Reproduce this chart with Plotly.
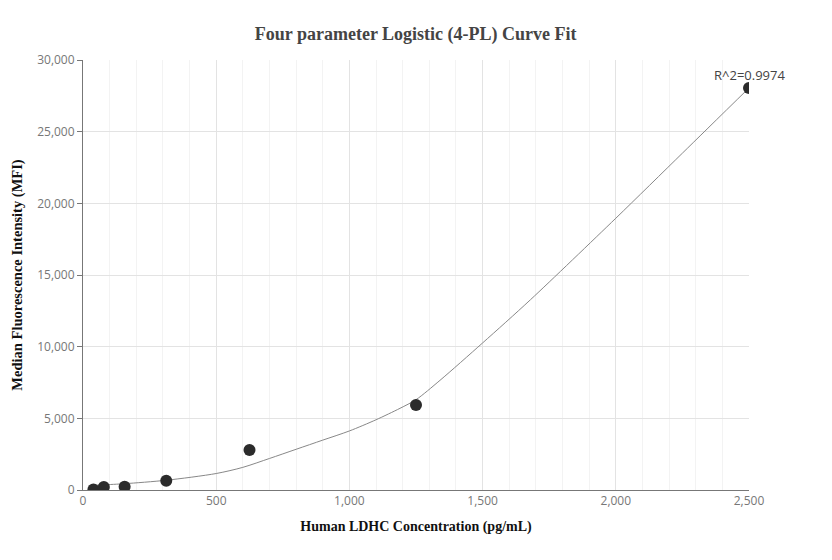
import plotly.graph_objects as go

# measured standards
conc = [39.06, 78.125, 156.25, 312.5, 625, 1250, 2500]
mfi = [40, 210, 230, 650, 2790, 5930, 28050]

# fitted 4-PL curve
fit_x = [39.06, 78.125, 156.25, 312.5, 500, 600, 700, 800, 900, 1000, 1100, 1190, 1250, 1340, 1500, 1680, 2000, 2250, 2500]
fit_y = [330, 360, 440, 680, 1150, 1580, 2200, 2840, 3480, 4120, 4900, 5700, 6300, 7650, 10260, 13280, 18960, 23500, 28050]

r2_text = "R^2=0.9974"

fig = go.Figure()

fig.add_trace(go.Scatter(
    x=fit_x, y=fit_y, mode="lines",
    line=dict(color="#888888", width=1, shape="spline", smoothing=0.8),
    hoverinfo="skip", showlegend=False,
))

fig.add_trace(go.Scatter(
    x=conc, y=mfi, mode="markers",
    marker=dict(color="#2b2b2b", size=12),
    showlegend=False,
))

fig.add_annotation(
    x=conc[-1], y=mfi[-1], text=r2_text, showarrow=False,
    yshift=13, font=dict(family="Open Sans", size=13, color="#444444"),
)

tick_font = dict(family="Open Sans", size=12, color="#777777")

fig.update_layout(
    width=832, height=560,
    margin=dict(l=75, r=91, t=52, b=78),
    paper_bgcolor="white", plot_bgcolor="white",
    title=dict(
        text="<b>Four parameter Logistic (4-PL) Curve Fit</b>",
        x=0.49, xref="container", xanchor="center",
        y=0.955, yanchor="middle",
        font=dict(family="Liberation Serif", size=18, color="#444444"),
    ),
    xaxis=dict(
        range=[0, 2500], dtick=500, tickformat=",",
        title=dict(text="<b>Human LDHC Concentration (pg/mL)</b>",
                   font=dict(family="Liberation Serif", size=14, color="#111111"), standoff=12),
        tickfont=tick_font,
        showline=True, linecolor="#777777", linewidth=1,
        gridcolor="#e3e3e3", zeroline=False,
        minor=dict(dtick=100, showgrid=True, gridcolor="#f3f3f3"),
    ),
    yaxis=dict(
        range=[0, 30000], dtick=5000, tickformat=",", automargin=False,
        title=dict(text="<b>Median Fluorescence Intensity (MFI)</b>",
                   font=dict(family="Liberation Serif", size=14.5, color="#111111"), standoff=11),
        tickfont=tick_font,
        showline=True, linecolor="#777777", linewidth=1,
        ticks="outside", ticklen=5, tickcolor="#777777",
        gridcolor="#e3e3e3", zeroline=False,
    ),
)

fig.write_html("out.html")
